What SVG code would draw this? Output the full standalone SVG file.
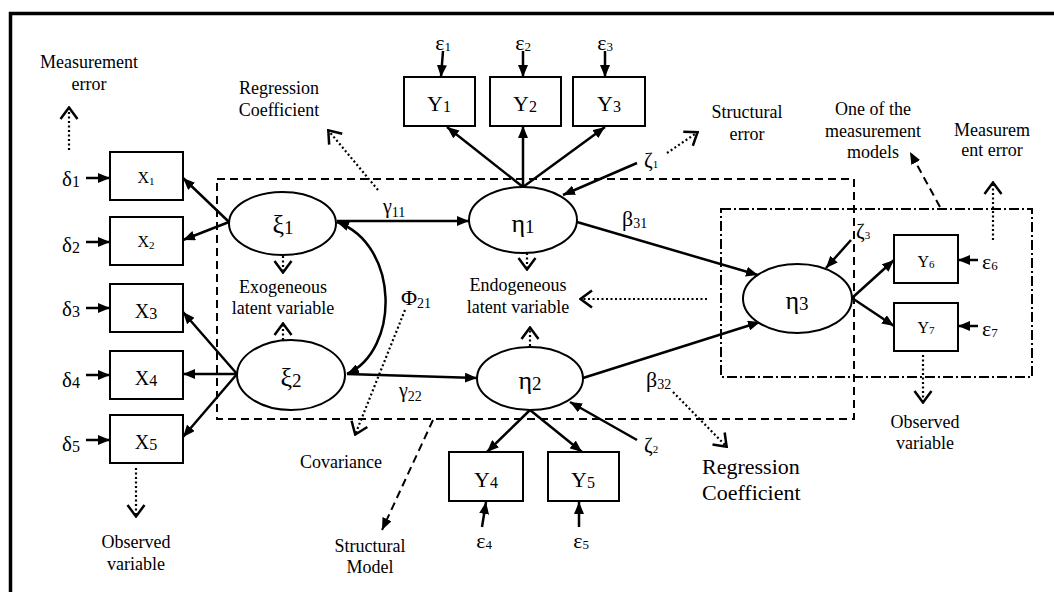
<svg xmlns="http://www.w3.org/2000/svg" width="1054" height="592" viewBox="0 0 1054 592">
<style>
text{font-family:"Liberation Serif","Times New Roman",serif;fill:#000}
.lbl{font-size:18px;text-anchor:middle}
.box{fill:#fff;stroke:#000;stroke-width:2}
.ell{fill:#fff;stroke:#000;stroke-width:2}
.c{fill:none;stroke:#000;stroke-width:2.5}
.dot{fill:none;stroke:#000;stroke-width:2.2;stroke-dasharray:2 2.5}
.dash{fill:none;stroke:#000;stroke-width:2;stroke-dasharray:8 5}
.dd{fill:none;stroke:#000;stroke-width:2;stroke-dasharray:10 3 2 3}
.mid{text-anchor:middle}
</style>
<defs>
<marker id="ah" viewBox="0 0 12 10" refX="12" refY="5" markerWidth="12" markerHeight="10" markerUnits="userSpaceOnUse" orient="auto-start-reverse"><path d="M0,0 L12,5 L0,10 z" fill="#000"/></marker>
<marker id="oh" viewBox="0 0 14 20" refX="13" refY="10" markerWidth="14" markerHeight="20" markerUnits="userSpaceOnUse" orient="auto"><path d="M1,1.5 L12.5,10 L1,18.5" fill="none" stroke="#000" stroke-width="2.5"/></marker>
</defs>

<path d="M10.5,600 V13.5 H1060" fill="none" stroke="#000" stroke-width="3.5"/>

<g id="frames">
<rect class="dash" x="217" y="179" width="637" height="240"/>
<rect class="dd" x="721" y="209" width="311" height="168"/>
</g>

<g id="connectors">
<line class="c" x1="229" y1="222" x2="183" y2="178" marker-end="url(#ah)"/>
<line class="c" x1="229" y1="222" x2="183" y2="240" marker-end="url(#ah)"/>
<line class="c" x1="237" y1="374" x2="183" y2="312" marker-end="url(#ah)"/>
<line class="c" x1="237" y1="374" x2="183" y2="374" marker-end="url(#ah)"/>
<line class="c" x1="237" y1="374" x2="183" y2="437" marker-end="url(#ah)"/>
<line class="c" x1="86" y1="178" x2="110" y2="178" marker-end="url(#ah)"/>
<line class="c" x1="86" y1="242" x2="110" y2="242" marker-end="url(#ah)"/>
<line class="c" x1="86" y1="308" x2="110" y2="308" marker-end="url(#ah)"/>
<line class="c" x1="86" y1="375" x2="110" y2="375" marker-end="url(#ah)"/>
<line class="c" x1="86" y1="440" x2="110" y2="440" marker-end="url(#ah)"/>
<path class="c" d="M337,222 C400,245 400,350 347,374" marker-start="url(#ah)" marker-end="url(#ah)"/>
<line class="c" x1="337" y1="221" x2="469" y2="221" marker-end="url(#ah)"/>
<line class="c" x1="347" y1="374" x2="477" y2="378" marker-end="url(#ah)"/>
<line class="c" x1="523" y1="187" x2="447" y2="127" marker-end="url(#ah)"/>
<line class="c" x1="523" y1="187" x2="523" y2="126" marker-end="url(#ah)"/>
<line class="c" x1="523" y1="187" x2="605" y2="127" marker-end="url(#ah)"/>
<line class="c" x1="443" y1="51" x2="441" y2="77" marker-end="url(#ah)"/>
<line class="c" x1="523" y1="51" x2="523" y2="77" marker-end="url(#ah)"/>
<line class="c" x1="605" y1="51" x2="605" y2="77" marker-end="url(#ah)"/>
<line class="c" x1="637" y1="163" x2="563" y2="195" marker-end="url(#ah)"/>
<line class="c" x1="577" y1="222" x2="758" y2="275" marker-end="url(#ah)"/>
<line class="c" x1="583" y1="378" x2="760" y2="322" marker-end="url(#ah)"/>
<line class="c" x1="851" y1="240" x2="826" y2="268" marker-end="url(#ah)"/>
<line class="c" x1="852" y1="298" x2="894" y2="260" marker-end="url(#ah)"/>
<line class="c" x1="852" y1="298" x2="894" y2="326" marker-end="url(#ah)"/>
<line class="c" x1="978" y1="260" x2="958" y2="260" marker-end="url(#ah)"/>
<line class="c" x1="978" y1="326" x2="958" y2="326" marker-end="url(#ah)"/>
<line class="c" x1="637" y1="440" x2="570" y2="402" marker-end="url(#ah)"/>
<line class="c" x1="530" y1="410" x2="487" y2="452" marker-end="url(#ah)"/>
<line class="c" x1="530" y1="410" x2="582" y2="452" marker-end="url(#ah)"/>
<line class="c" x1="482" y1="527" x2="486" y2="502" marker-end="url(#ah)"/>
<line class="c" x1="579" y1="527" x2="579" y2="502" marker-end="url(#ah)"/>
<line class="dash" stroke-width="2.5" x1="433" y1="420" x2="382" y2="530" marker-end="url(#ah)"/>
<line class="dash" stroke-width="2.5" x1="940" y1="207" x2="910" y2="152" marker-end="url(#ah)"/>
<line class="dot" x1="69" y1="150" x2="69" y2="107" marker-end="url(#oh)"/>
<line class="dot" x1="378" y1="190" x2="328" y2="130" marker-end="url(#oh)"/>
<line class="dot" x1="667" y1="153" x2="698" y2="132" marker-end="url(#oh)"/>
<line class="dot" x1="283" y1="256" x2="283" y2="273" marker-end="url(#oh)"/>
<line class="dot" x1="283" y1="340" x2="283" y2="323" marker-end="url(#oh)"/>
<line class="dot" x1="527" y1="253" x2="527" y2="270" marker-end="url(#oh)"/>
<line class="dot" x1="530" y1="346" x2="530" y2="327" marker-end="url(#oh)"/>
<line class="dot" x1="405" y1="310" x2="355" y2="435" marker-end="url(#oh)"/>
<line class="dot" x1="707" y1="299" x2="580" y2="299" marker-end="url(#oh)"/>
<line class="dot" x1="673" y1="392" x2="727" y2="447" marker-end="url(#oh)"/>
<line class="dot" x1="136" y1="468" x2="136" y2="517" marker-end="url(#oh)"/>
<line class="dot" x1="923" y1="355" x2="923" y2="403" marker-end="url(#oh)"/>
<line class="dot" x1="993" y1="240" x2="993" y2="182" marker-end="url(#oh)"/>
</g>

<g id="X1"><rect class="box" x="110" y="152" width="73" height="48"/><text class="mid" x="146" y="183" font-size="16">X<tspan font-size="11" dy="2">1</tspan></text></g>
<g id="X2"><rect class="box" x="110" y="217" width="73" height="48"/><text class="mid" x="146" y="247" font-size="16">X<tspan font-size="11" dy="2">2</tspan></text></g>
<g id="X3"><rect class="box" x="110" y="284" width="73" height="48"/><text class="mid" x="146" y="318" font-size="20">X<tspan font-size="16" dy="1">3</tspan></text></g>
<g id="X4"><rect class="box" x="110" y="351" width="73" height="48"/><text class="mid" x="146" y="385" font-size="20">X<tspan font-size="16" dy="1">4</tspan></text></g>
<g id="X5"><rect class="box" x="110" y="415" width="73" height="48"/><text class="mid" x="146" y="449" font-size="20">X<tspan font-size="16" dy="1">5</tspan></text></g>

<g id="deltas" font-size="21">
<text x="62" y="186">δ<tspan font-size="16" dy="1">1</tspan></text>
<text x="62" y="252">δ<tspan font-size="16" dy="1">2</tspan></text>
<text x="62" y="316">δ<tspan font-size="16" dy="1">3</tspan></text>
<text x="62" y="387">δ<tspan font-size="16" dy="1">4</tspan></text>
<text x="62" y="451">δ<tspan font-size="16" dy="1">5</tspan></text>
</g>

<g id="xi1"><ellipse class="ell" cx="282.5" cy="223.5" rx="53.5" ry="31.5"/><text class="mid" x="283" y="233" font-size="26">ξ<tspan font-size="19" dy="1">1</tspan></text></g>
<g id="xi2"><ellipse class="ell" cx="291" cy="375" rx="54" ry="35"/><text class="mid" x="291" y="386" font-size="26">ξ<tspan font-size="19" dy="1">2</tspan></text></g>
<g id="eta1"><ellipse class="ell" cx="523" cy="220" rx="54" ry="33"/><text class="mid" x="523" y="232" font-size="26">η<tspan font-size="19" dy="1">1</tspan></text></g>
<g id="eta2"><ellipse class="ell" cx="530" cy="378.5" rx="53" ry="31.5"/><text class="mid" x="530" y="389" font-size="26">η<tspan font-size="19" dy="1">2</tspan></text></g>
<g id="eta3"><ellipse class="ell" cx="797.5" cy="298.5" rx="54.5" ry="34.5"/><text class="mid" x="797" y="309" font-size="26">η<tspan font-size="19" dy="1">3</tspan></text></g>

<g id="Y1"><rect class="box" x="404" y="77" width="71" height="49"/><text class="mid" x="439" y="111" font-size="22">Y<tspan font-size="16" dy="1">1</tspan></text></g>
<g id="Y2"><rect class="box" x="490" y="77" width="71" height="49"/><text class="mid" x="525" y="111" font-size="22">Y<tspan font-size="16" dy="1">2</tspan></text></g>
<g id="Y3"><rect class="box" x="573" y="77" width="72" height="49"/><text class="mid" x="609" y="111" font-size="22">Y<tspan font-size="16" dy="1">3</tspan></text></g>
<g id="Y4"><rect class="box" x="449" y="452" width="74" height="49"/><text class="mid" x="486" y="487" font-size="22">Y<tspan font-size="16" dy="1">4</tspan></text></g>
<g id="Y5"><rect class="box" x="548" y="452" width="71" height="49"/><text class="mid" x="583" y="487" font-size="22">Y<tspan font-size="16" dy="1">5</tspan></text></g>
<g id="Y6"><rect class="box" x="894" y="235" width="64" height="48"/><text class="mid" x="926" y="267" font-size="16">Y<tspan font-size="11" dy="1">6</tspan></text></g>
<g id="Y7"><rect class="box" x="894" y="303" width="64" height="48"/><text class="mid" x="926" y="333" font-size="16">Y<tspan font-size="11" dy="1">7</tspan></text></g>

<g id="epsilons" font-size="22">
<text class="mid" x="443" y="50">ε<tspan font-size="13" dy="1">1</tspan></text>
<text class="mid" x="523" y="50">ε<tspan font-size="13" dy="1">2</tspan></text>
<text class="mid" x="605" y="50">ε<tspan font-size="13" dy="1">3</tspan></text>
<text class="mid" x="484" y="548">ε<tspan font-size="13" dy="1">4</tspan></text>
<text class="mid" x="581" y="548">ε<tspan font-size="13" dy="1">5</tspan></text>
<text x="982" y="269">ε<tspan font-size="13" dy="1">6</tspan></text>
<text x="982" y="336">ε<tspan font-size="13" dy="1">7</tspan></text>
</g>

<g id="params">
<text x="383" y="213" font-size="20">γ<tspan font-size="14" dy="4">11</tspan></text>
<text x="399" y="397" font-size="20">γ<tspan font-size="14" dy="4">22</tspan></text>
<text x="622" y="226" font-size="22">β<tspan font-size="14" dy="2">31</tspan></text>
<text x="646" y="387" font-size="22">β<tspan font-size="14" dy="2">32</tspan></text>
<text x="401" y="305" font-size="22">Φ<tspan font-size="14" dy="3">21</tspan></text>
<text x="644" y="167" font-size="21">ζ<tspan font-size="11" dy="1">1</tspan></text>
<text x="644" y="452" font-size="21">ζ<tspan font-size="11" dy="1">2</tspan></text>
<text x="856" y="238" font-size="21">ζ<tspan font-size="11" dy="1">3</tspan></text>
</g>

<g id="labels" class="lbl">
<text x="89" y="68">Measurement</text><text x="89" y="90">error</text>
<text x="279" y="94">Regression</text><text x="279" y="116">Coefficient</text>
<text x="747" y="118">Structural</text><text x="747" y="140">error</text>
<text x="873" y="115">One of the</text><text x="873" y="137">measurement</text><text x="873" y="158">models</text>
<text x="992" y="136">Measurem</text><text x="992" y="156">ent error</text>
<text x="283" y="293">Exogeneous</text><text x="283" y="314">latent variable</text>
<text x="518" y="291">Endogeneous</text><text x="518" y="313">latent variable</text>
<text x="341" y="468">Covariance</text>
<text x="370" y="552">Structural</text><text x="370" y="573">Model</text>
<text x="136" y="548">Observed</text><text x="136" y="570">variable</text>
<text x="925" y="428">Observed</text><text x="925" y="449">variable</text>
<text x="702" y="474" font-size="22" text-anchor="start">Regression</text><text x="702" y="500" font-size="22" text-anchor="start">Coefficient</text>
</g>
</svg>
